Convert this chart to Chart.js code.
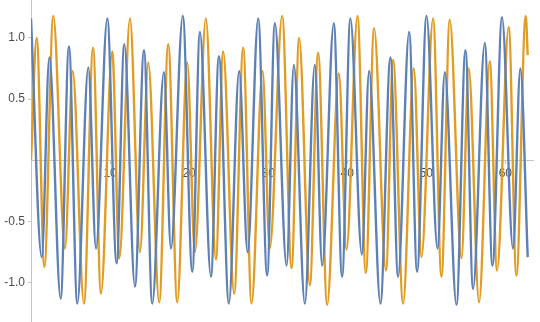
<!DOCTYPE html>
<html>
<head>
<meta charset="utf-8">
<script src="https://cdn.jsdelivr.net/npm/chart.js@4"></script>
<style>
  body { margin: 0; background: #fff; }
  #wrap { width: 540px; height: 322px; position: relative; }
</style>
</head>
<body>
<div id="wrap"><canvas id="plot"></canvas></div>
<script>
// extrema (x, y), curves pass through these
const blueX = [0, 1.35, 2.32, 3.75, 4.8, 5.86, 7.25, 8.22, 9.65, 10.83, 11.8, 13.15, 14.29, 15.34, 16.81, 17.7,
  19.2, 20.4, 21.37, 22.76, 23.77, 25.03, 26.33, 27.4, 28.74, 29.87, 30.85, 32.33, 33.25, 34.64, 35.9, 36.83,
  38.3, 39.35, 40.4, 41.85, 42.77, 44.2, 45.47, 46.43, 47.83, 48.84, 50.03, 51.42, 52.34, 53.82, 54.96, 55.92,
  57.4, 58.37, 59.58, 60.97, 61.9, 62.83];
const blueY = [1.16, -0.79, 0.84, -1.13, 0.93, -1.17, 0.76, -0.72, 1.16, -0.84, 0.95, -1.03, 0.9, -1.17, 0.72, -0.72,
  1.18, -0.91, 1.05, -0.95, 0.85, -1.17, 0.73, -0.75, 1.16, -0.94, 1.12, -0.86, 0.78, -1.17, 0.78, -0.86,
  1.12, -0.95, 1.16, -0.77, 0.73, -1.17, 0.84, -0.95, 1.05, -0.91, 1.18, -0.72, 0.72, -1.18, 0.9, -1.05,
  0.96, -0.86, 1.17, -0.72, 0.75, -0.79];

const orangeX = [0, 0.72, 1.69, 2.82, 4.3, 5.27, 6.7, 7.85, 8.85, 10.28, 11.17, 12.52, 13.78, 14.83, 16.22, 17.36,
  18.5, 19.76, 20.73, 22.12, 23.39, 24.31, 25.7, 26.84, 27.9, 29.29, 30.2, 31.77, 32.96, 33.92, 35.27, 36.32,
  37.46, 38.94, 39.91, 41.3, 42.35, 43.4, 44.9, 45.8, 47.07, 48.42, 49.39, 50.86, 51.92, 52.97, 54.45, 55.37,
  56.68, 58.03, 58.95, 60.43, 61.4, 62.58, 62.83];
const orangeY = [0, 1.0, -0.87, 1.18, -0.72, 0.73, -1.17, 0.92, -1.09, 0.89, -0.8, 1.16, -0.75, 0.8, -1.16, 0.95,
  -1.16, 0.8, -0.75, 1.16, -0.81, 0.89, -1.09, 0.92, -1.17, 0.73, -0.72, 1.18, -0.88, 1.0, -1.02, 0.88,
  -1.18, 0.71, -0.73, 1.18, -0.92, 1.08, -0.9, 0.82, -1.17, 0.75, -0.79, 1.16, -0.95, 1.15, -0.8, 0.75,
  -1.16, 0.81, -0.9, 1.09, -0.94, 1.18, 0.86];

const xTicks = [10, 20, 30, 40, 50, 60];
const yTicks = [-1.0, -0.5, 0.5, 1.0];

const toPoints = (xs, ys) => xs.map((x, i) => ({ x: x, y: ys[i] }));

const axisGray = '#c4c4c4';
const labelFont = { family: 'Liberation Sans', size: 12 };

new Chart(document.getElementById('plot'), {
  type: 'line',
  data: {
    datasets: [
      {
        data: toPoints(blueX, blueY),
        borderColor: '#5E81B5',
        borderWidth: 2.4,
        pointRadius: 0,
        cubicInterpolationMode: 'monotone'
      },
      {
        data: toPoints(orangeX, orangeY),
        borderColor: '#E19C24',
        borderWidth: 2.4,
        pointRadius: 0,
        cubicInterpolationMode: 'monotone'
      }
    ]
  },
  options: {
    responsive: true,
    maintainAspectRatio: false,
    animation: false,
    layout: { padding: { left: 0, right: 7, top: 0, bottom: 0 } },
    plugins: { legend: { display: false }, tooltip: { enabled: false } },
    scales: {
      x: {
        type: 'linear',
        position: { y: 0 },
        min: 0,
        max: 63.5,
        afterFit: s => { s.height = 0; s.paddingLeft = 0; s.paddingRight = 0; },
        afterBuildTicks: s => { s.ticks = xTicks.map(v => ({ value: v })); },
        grid: { drawOnChartArea: false, drawTicks: true, tickLength: 3, color: axisGray },
        border: { display: true, color: axisGray, width: 1 },
        ticks: { color: '#4d4d4d', font: labelFont, padding: 3, maxRotation: 0 }
      },
      y: {
        type: 'linear',
        position: 'left',
        min: -1.32,
        max: 1.31,
        afterFit: s => { s.width = 31; s.paddingTop = 0; s.paddingBottom = 0; },
        afterBuildTicks: s => { s.ticks = yTicks.map(v => ({ value: v })); },
        grid: { drawOnChartArea: false, drawTicks: true, tickLength: 3, color: axisGray },
        border: { display: true, color: axisGray, width: 1 },
        ticks: { color: '#4d4d4d', font: labelFont, padding: 3, callback: v => v.toFixed(1) }
      }
    }
  }
});
</script>
</body>
</html>
